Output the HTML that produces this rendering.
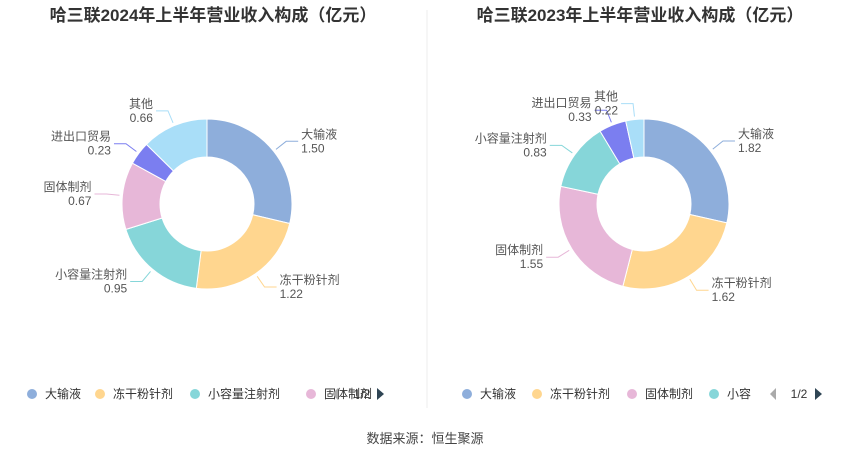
<!DOCTYPE html>
<html><head><meta charset="utf-8"><style>
body{margin:0;background:#fff;width:850px;height:459px;overflow:hidden;font-family:"Liberation Sans","Noto Sans CJK SC",sans-serif}
</style></head><body>
<svg width="850" height="459" font-family="Liberation Sans, Noto Sans CJK SC, sans-serif">
<text x="213" y="21" text-anchor="middle" font-size="17" font-weight="bold" fill="#333">哈三联2024年上半年营业收入构成（亿元）</text>
<text x="640" y="21" text-anchor="middle" font-size="17" font-weight="bold" fill="#333">哈三联2023年上半年营业收入构成（亿元）</text>
<line x1="427" y1="10" x2="427" y2="408" stroke="#eee"/>
<g id="c1"></g>
<g id="c2"></g>
<g id="lg"></g>
<text x="425" y="443" text-anchor="middle" font-size="13" fill="#444">数据来源：恒生聚源</text>
</svg>
<script>
const names2024=["大输液","冻干粉针剂","小容量注射剂","固体制剂","进出口贸易","其他"];
const values2024=[1.50,1.22,0.95,0.67,0.23,0.66];
const names2023=["大输液","冻干粉针剂","固体制剂","小容量注射剂","进出口贸易","其他"];
const values2023=[1.82,1.62,1.55,0.83,0.33,0.22];
const colorMap={"大输液":"#8eaedb","冻干粉针剂":"#ffd68f","小容量注射剂":"#86d6d9","固体制剂":"#e7b7d8","进出口贸易":"#7b7ef0","其他":"#a9def8"};
const NS="http://www.w3.org/2000/svg";
function mk(t,a){const e=document.createElementNS(NS,t);for(const k in a)e.setAttribute(k,a[k]);return e;}
function pt(cx,cy,r,a){return [cx+r*Math.sin(a),cy-r*Math.cos(a)];}
function donut(g,cx,cy,names,vals){
 const tot=vals.reduce((a,b)=>a+b,0);const R=85,r=47;let a0=0;
 names.forEach((n,i)=>{
  const a1=a0+vals[i]/tot*2*Math.PI;const big=a1-a0>Math.PI?1:0;
  const p1=pt(cx,cy,R,a0),p2=pt(cx,cy,R,a1),p3=pt(cx,cy,r,a1),p4=pt(cx,cy,r,a0);
  const p=mk("path",{d:`M${p1}A${R},${R} 0 ${big} 1 ${p2}L${p3}A${r},${r} 0 ${big} 0 ${p4}Z`,fill:colorMap[n],stroke:"#fff","stroke-width":1});
  
  
  g.appendChild(p);
  const m=(a0+a1)/2;const s=Math.sin(m)>=0?1:-1;
  const q1=pt(cx,cy,R+3,m),q2=pt(cx,cy,R+16,m);const q3=[q2[0]+s*12,q2[1]];
  const l=mk("polyline",{points:`${q1} ${q2} ${q3}`,fill:"none",stroke:colorMap[n],"stroke-width":1});
  
  
  g.appendChild(l);
  const anc=s>0?"start":"end";const tx=q3[0]+s*3;
  const t1=mk("text",{x:tx,y:q3[1]-3,"text-anchor":anc,"font-size":12,fill:"#555"});t1.textContent=n;
  
  
  const t2=mk("text",{x:tx,y:q3[1]+11,"text-anchor":anc,"font-size":12,fill:"#555"});t2.textContent=vals[i].toFixed(2);
  
  
  g.appendChild(t1);g.appendChild(t2);
  a0=a1;
 });
}
donut(document.getElementById("c1"),207,204,names2024,values2024);
donut(document.getElementById("c2"),644,204,names2023,values2023);
const lg=document.getElementById("lg");
function legend(x0,items,widths,last){
 let x=x0;items.forEach((n,i)=>{
  const c=mk("circle",{cx:x,cy:394,r:5,fill:colorMap[n]});
  
  
  lg.appendChild(c);
  if(n!==""){const t=mk("text",{x:x+13,y:398,"font-size":12,fill:"#333"});t.textContent=last&&i===items.length-1?"小容":n;
  
  
  lg.appendChild(t);}
  x+=widths[i];
 });
}
legend(32,["大输液","冻干粉针剂","小容量注射剂","固体制剂"],[68,95,116,0],false);
legend(467,["大输液","冻干粉针剂","固体制剂","小容量注射剂"],[70,95,82,0],true);
[[332,362,377],[770,799,815]].forEach((p,k)=>{
 const a=mk("path",{d:`M${p[0]+6},388L${p[0]},394L${p[0]+6},400Z`,fill:"#aaa"});
 
 
 lg.appendChild(a);
 const t=mk("text",{x:p[1],y:398,"text-anchor":"middle","font-size":12,fill:"#333"});t.textContent="1/2";
 
 
 lg.appendChild(t);
 const b=mk("path",{d:`M${p[2]},388L${p[2]+7},394L${p[2]},400Z`,fill:"#2f4554"});
 
 
 lg.appendChild(b);
});
</script>
</body></html>
